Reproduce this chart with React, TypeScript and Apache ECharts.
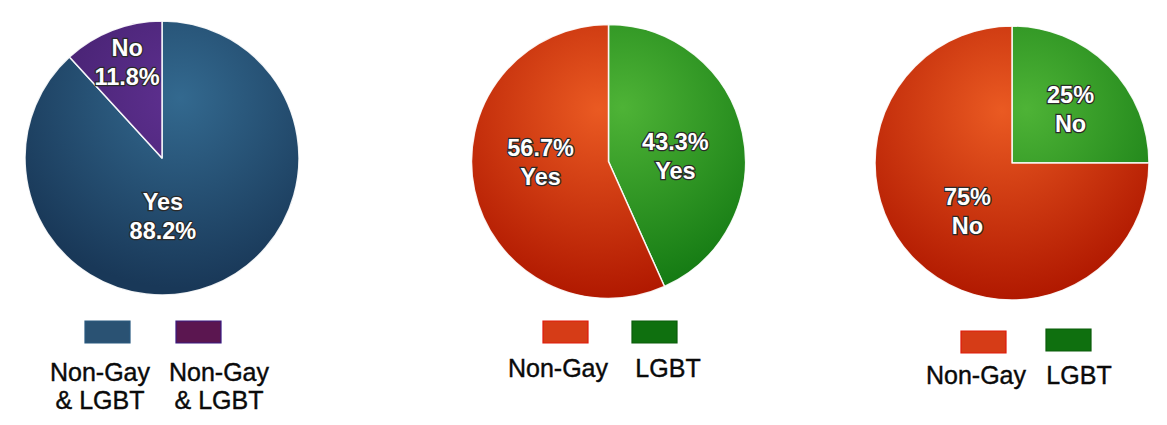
import React, { useEffect, useRef } from "react";
import * as echarts from "echarts";

// ---- data ----
const chart1Answers = ["Yes", "No"];
const chart1Values = [88.2, 11.8];
const chart1Legend = ["Non-Gay\n& LGBT", "Non-Gay\n& LGBT"];

const chart2Groups = ["LGBT", "Non-Gay"];
const chart2Values = [43.3, 56.7];
const chart2Answer = "Yes";

const chart3Groups = ["LGBT", "Non-Gay"];
const chart3Values = [25, 75];
const chart3Answer = "No";

const legendOrder = ["Non-Gay", "LGBT"];

// ---- styles ----
const FONT = "'Liberation Sans', Arial, sans-serif";
const R = 137;

function grad(cx: number, cy: number, inner: string, outer: string) {
  return {
    type: "radial",
    x: cx,
    y: cy,
    r: 190,
    global: true,
    colorStops: [
      { offset: 0, color: inner },
      { offset: 1, color: outer },
    ],
  };
}

const labelBase = {
  show: true,
  position: "inside",
  color: "#ffffff",
  fontFamily: FONT,
  fontWeight: "bold",
  fontSize: 23.5,
  lineHeight: 29,
  textBorderColor: "#2a2a2a",
  textBorderWidth: 2.5,
};

export default function App() {
  const ref = useRef<HTMLDivElement>(null);
  useEffect(() => {
    document.body.style.margin = "0";
    const chart = echarts.init(ref.current!, null, { renderer: "svg" });

    const c1 = [162, 158];
    const c2 = [608.5, 161.5];
    const c3 = [1012, 163];

    const c1Colors = [
      grad(180, 98, "#33698f", "#193858"),
      grad(180, 98, "#5e3090", "#3e1d66"),
    ];
    const c1Offsets = [
      [-25, -8],
      [-9, -29],
    ];
    const redG = (c: number[]) => grad(c[0] - 10, c[1] - 52, "#ea5a22", "#b01800");
    const greenG = (c: number[]) => grad(c[0] + 14, c[1] - 54, "#4eb336", "#127812");
    const c2Offsets = [
      [-3, 10],
      [2, -14],
    ];
    const c3Offsets = [
      [8, -3],
      [6, -2],
    ];

    const border = { borderColor: "rgba(255,255,255,0.9)", borderWidth: 1.5 };

    const series: any[] = [
      {
        type: "pie",
        center: c1,
        radius: [0, R],
        startAngle: 90,
        clockwise: true,
        silent: true,
        label: { ...labelBase },
        labelLine: { show: false },
        data: chart1Answers.map((a, i) => ({
          name: a,
          value: chart1Values[i],
          itemStyle: { color: c1Colors[i], ...border },
          label: {
            formatter: () => `${a}\n${chart1Values[i]}%`,
            offset: c1Offsets[i],
          },
        })),
      },
      {
        type: "pie",
        center: c2,
        radius: [0, R],
        startAngle: 90,
        clockwise: true,
        silent: true,
        label: { ...labelBase },
        labelLine: { show: false },
        data: chart2Groups.map((g, i) => ({
          name: g,
          value: chart2Values[i],
          itemStyle: { color: g === "LGBT" ? greenG(c2) : redG(c2), ...border },
          label: {
            formatter: () => `${chart2Values[i]}%\n${chart2Answer}`,
            offset: c2Offsets[i],
          },
        })),
      },
      {
        type: "pie",
        center: c3,
        radius: [0, R],
        startAngle: 90,
        clockwise: true,
        silent: true,
        label: { ...labelBase },
        labelLine: { show: false },
        data: chart3Groups.map((g, i) => ({
          name: g,
          value: chart3Values[i],
          itemStyle: { color: g === "LGBT" ? greenG(c3) : redG(c3), ...border },
          label: {
            formatter: () => `${chart3Values[i]}%\n${chart3Answer}`,
            offset: c3Offsets[i],
          },
        })),
      },
    ];

    // legends (icon above text)
    const swatch = (x: number, y: number, fill: string, stroke: string) => ({
      type: "rect",
      shape: { x, y, width: 45, height: 22 },
      style: { fill, stroke, lineWidth: 1.2 },
    });
    const txt = (x: number, y: number, text: string) => ({
      type: "text",
      x,
      y,
      style: {
        text,
        fill: "#0a0a0a",
        font: `25px ${FONT}`,
        align: "center",
        verticalAlign: "top",
        lineHeight: 28,
        stroke: "#0a0a0a",
        lineWidth: 0.4,
      },
    });
    const legendColors: Record<string, [string, string]> = {
      "Non-Gay": ["#d63c17", "#e01a0a"],
      LGBT: ["#0f700f", "#0b5c0b"],
    };

    const graphic: any[] = [
      swatch(85, 321, "#2a5273", "#2a5a80"),
      swatch(176, 321, "#5b1650", "#3a1a80"),
      txt(100, 358, chart1Legend[0]),
      txt(219, 358, chart1Legend[1]),
    ];
    const l2x = [543, 632];
    const l2t = [558, 668];
    legendOrder.forEach((g, i) => {
      graphic.push(swatch(l2x[i], 321, legendColors[g][0], legendColors[g][1]));
      graphic.push(txt(l2t[i], 354, g));
    });
    const l3x = [961, 1046];
    const l3y = [331, 329];
    const l3t = [976, 1079];
    legendOrder.forEach((g, i) => {
      graphic.push(swatch(l3x[i], l3y[i], legendColors[g][0], legendColors[g][1]));
      graphic.push(txt(l3t[i], 361, g));
    });

    chart.setOption({
      animation: false,
      backgroundColor: "#ffffff",
      series,
      graphic,
    });
    return () => chart.dispose();
  }, []);
  return <div ref={ref} style={{ width: 1167, height: 425 }} />;
}
